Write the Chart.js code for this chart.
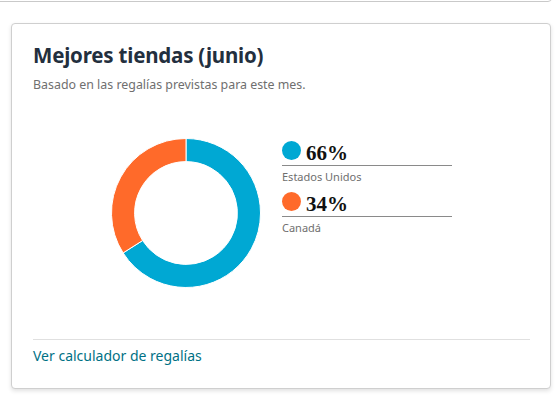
<!DOCTYPE html>
<html lang="es">
<head>
<meta charset="utf-8">
<script src="https://cdn.jsdelivr.net/npm/chart.js@4"></script>
<style>
    html, body { margin: 0; padding: 0; background: #fff; width: 556px; height: 405px; overflow: hidden; font-family: 'Noto Sans', sans-serif; }
    .top-card { position: absolute; left: -10px; top: -20px; width: 560px; height: 20px; border: 1px solid #c9c9c9; border-radius: 4px; }
    .card { position: absolute; left: 11px; top: 23px; width: 538px; height: 364px; border: 1px solid #cfcfcf; border-radius: 4px; box-shadow: 0 2px 4px rgba(0,0,0,0.12); background: #fff; }
    .card h2 { position: absolute; left: 21px; top: 17px; margin: 0; font-size: 20.5px; font-weight: 700; color: #232f3e; letter-spacing: -0.2px; }
    .card .sub { position: absolute; left: 21px; top: 52px; margin: 0; font-size: 12.4px; color: #6f6f6f; }
    .chart-box { position: absolute; left: 99px; top: 114px; width: 150px; height: 150px; }
    .legend { position: absolute; left: 270px; top: 114px; width: 170px; }
    .legend-item { position: relative; height: 51px; }
    .legend-item .dot { position: absolute; left: 0; top: 3px; width: 19px; height: 19px; border-radius: 50%; }
    .legend-item .pct { position: absolute; left: 24px; top: 3px; font-family: 'Liberation Serif', serif; font-weight: 700; font-size: 21px; line-height: 24px; color: #111; }
    .legend-item .rule { position: absolute; left: 0; top: 27px; width: 170px; border-top: 1px solid #8a8a8a; }
    .legend-item .name { position: absolute; left: 0; top: 31px; font-size: 11px; color: #6f6f6f; }
    .sep { position: absolute; left: 21px; top: 315px; width: 497px; border-top: 1px solid #e0e0e0; }
    .link { position: absolute; left: 21px; top: 322px; font-size: 14px; color: #007185; }
</style>
</head>
<body>
<div class="top-card"></div>
<div class="card">
    <h2>Mejores tiendas (junio)</h2>
    <p class="sub">Basado en las regalías previstas para este mes.</p>
    <div class="chart-box"><canvas id="storeChart"></canvas></div>
    <div class="legend" id="storeLegend"></div>
    <div class="sep"></div>
    <div class="link">Ver calculador de regalías</div>
</div>
<script>
    // Store shares (percent of projected royalties)
    const stores = ['Estados Unidos', 'Canadá'];
    const shares = [66, 34];
    const storeColors = ['#00a8d3', '#ff6a2a'];

    document.addEventListener('DOMContentLoaded', () => {
        const canvas = document.getElementById('storeChart');
        new Chart(canvas.getContext('2d'), {
            type: 'doughnut',
            data: {
                labels: stores,
                datasets: [{
                    data: shares,
                    backgroundColor: storeColors,
                    borderColor: '#ffffff',
                    borderWidth: 1,
                    hoverOffset: 0
                }]
            },
            options: {
                responsive: true,
                maintainAspectRatio: false,
                animation: false,
                cutout: '69%',
                layout: { padding: 0 },
                plugins: { legend: { display: false }, tooltip: { enabled: false } }
            }
        });

        // Legend built from the same arrays
        const legend = document.getElementById('storeLegend');
        legend.innerHTML = stores.map((s, i) => `
            <div class="legend-item">
                <span class="dot" style="background:${storeColors[i]}"></span>
                <span class="pct">${shares[i]}%</span>
                <div class="rule"></div>
                <span class="name">${s}</span>
            </div>
        `).join('');
    });
</script>
</body>
</html>
